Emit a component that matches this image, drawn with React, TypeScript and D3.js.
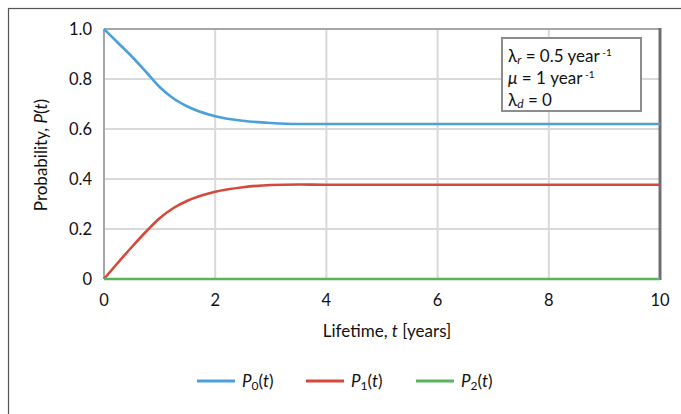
import React from "react";
import * as d3 from "d3";

// lifetime in years
const times = [0, 0.25, 0.5, 0.75, 1, 1.25, 1.5, 2, 2.5, 3, 3.5, 4, 5, 6, 7, 8, 9, 10];
const p0 = [1.0, 0.945, 0.89, 0.83, 0.768, 0.722, 0.69, 0.651, 0.633, 0.624, 0.62, 0.62, 0.62, 0.62, 0.62, 0.62, 0.62, 0.62];
const p1 = [0, 0.065, 0.128, 0.188, 0.243, 0.284, 0.313, 0.349, 0.367, 0.376, 0.378, 0.377, 0.377, 0.377, 0.377, 0.377, 0.377, 0.377];
const p2 = [0, 0, 0, 0, 0, 0, 0, 0, 0, 0, 0, 0, 0, 0, 0, 0, 0, 0];

const xTicks = [0, 2, 4, 6, 8, 10];
const yTicks = [0, 0.2, 0.4, 0.6, 0.8, 1.0];

const seriesNames = ["0", "1", "2"];
const seriesColors = ["#4aa0db", "#d4493a", "#5bb45c"];

const W = 681;
const H = 414;
const FONT = "Lato, 'Open Sans', sans-serif";

const App = () => {
  const x = d3.scaleLinear().domain([0, 10]).range([104, 660]);
  const y = d3.scaleLinear().domain([0, 1]).range([279, 29]);

  const line = d3
    .line<number>()
    .x((d, i) => x(times[i]))
    .y((d) => y(d))
    .curve(d3.curveMonotoneX);

  const series = [p0, p1, p2];

  const legendX = [197, 306, 416];

  return (
    <svg
      width={W}
      height={H}
      style={{ position: "absolute", left: 0, top: 0, background: "#fff" }}
      fontFamily={FONT}
    >
      {/* outer frame, cut off on the right and bottom */}
      <rect x={8.5} y={8.5} width={700} height={430} fill="#fff" stroke="#555" strokeWidth={1.2} />

      {/* grid */}
      {xTicks.slice(1, -1).map((t) => (
        <line key={"gx" + t} x1={x(t)} x2={x(t)} y1={y(1)} y2={y(0)} stroke="#d9d9d9" strokeWidth={2} />
      ))}
      {yTicks.slice(1, -1).map((t) => (
        <line key={"gy" + t} x1={x(0)} x2={x(10)} y1={y(t)} y2={y(t)} stroke="#d9d9d9" strokeWidth={2} />
      ))}

      {/* plot frame */}
      <line x1={x(0)} x2={x(10)} y1={y(1)} y2={y(1)} stroke="#a6a6a6" strokeWidth={2} />
      <line x1={x(0)} x2={x(0)} y1={y(1)} y2={y(0)} stroke="#a6a6a6" strokeWidth={2} />
      <line x1={x(0)} x2={x(10)} y1={y(0)} y2={y(0)} stroke="#a6a6a6" strokeWidth={2} />
      <line x1={x(10)} x2={x(10)} y1={y(1) - 1} y2={y(0) + 1} stroke="#6e6e6e" strokeWidth={3} />

      {/* series */}
      {series.map((s, i) => (
        <path key={i} d={line(s) || ""} fill="none" stroke={seriesColors[i]} strokeWidth={2.6} />
      ))}

      {/* y ticks */}
      {yTicks.map((t) => (
        <text key={"ty" + t} x={92} y={y(t)} dy="0.35em" textAnchor="end" fontSize={16.5} fill="#111">
          {t === 0 ? "0" : t.toFixed(1)}
        </text>
      ))}
      {/* x ticks */}
      {xTicks.map((t) => (
        <text key={"tx" + t} x={x(t)} y={300} dy="0.35em" textAnchor="middle" fontSize={16.5} fill="#111">
          {t}
        </text>
      ))}

      {/* axis titles */}
      <text x={387} y={337} textAnchor="middle" fontSize={17} fill="#111">
        Lifetime, <tspan fontStyle="italic">t</tspan> [years]
      </text>
      <text
        transform={`translate(47,155) rotate(-90)`}
        textAnchor="middle"
        fontSize={17}
        fill="#111"
      >
        Probability, <tspan fontStyle="italic">P</tspan>(<tspan fontStyle="italic">t</tspan>)
      </text>

      {/* parameter box */}
      <rect x={502} y={38} width={139} height={73} fill="#fff" stroke="#8c8c8c" strokeWidth={2} />
      <g fontSize={17} fill="#111">
        <text x={508} y={62}>
          λ<tspan fontStyle="italic" fontSize={12} dy={2}>r</tspan>
          <tspan dy={-2}> = 0.5 year</tspan>
          <tspan fontSize={10} dy={-6}> -1</tspan>
        </text>
        <text x={508} y={84}>
          <tspan fontStyle="italic">μ</tspan> = 1 year
          <tspan fontSize={10} dy={-6}> -1</tspan>
        </text>
        <text x={508} y={106}>
          λ<tspan fontStyle="italic" fontSize={12} dy={2}>d</tspan>
          <tspan dy={-2}> = 0</tspan>
        </text>
      </g>

      {/* legend */}
      {seriesNames.map((n, i) => (
        <g key={"lg" + n}>
          <line x1={legendX[i]} x2={legendX[i] + 38} y1={381} y2={381} stroke={seriesColors[i]} strokeWidth={3} />
          <text x={legendX[i] + 45} y={381} dy="0.35em" fontSize={17} fill="#111">
            <tspan fontStyle="italic">P</tspan>
            <tspan fontSize={12} dy={3}>{n}</tspan>
            <tspan dy={-3}>(</tspan>
            <tspan fontStyle="italic">t</tspan>)
          </text>
        </g>
      ))}
    </svg>
  );
};

export default App;
